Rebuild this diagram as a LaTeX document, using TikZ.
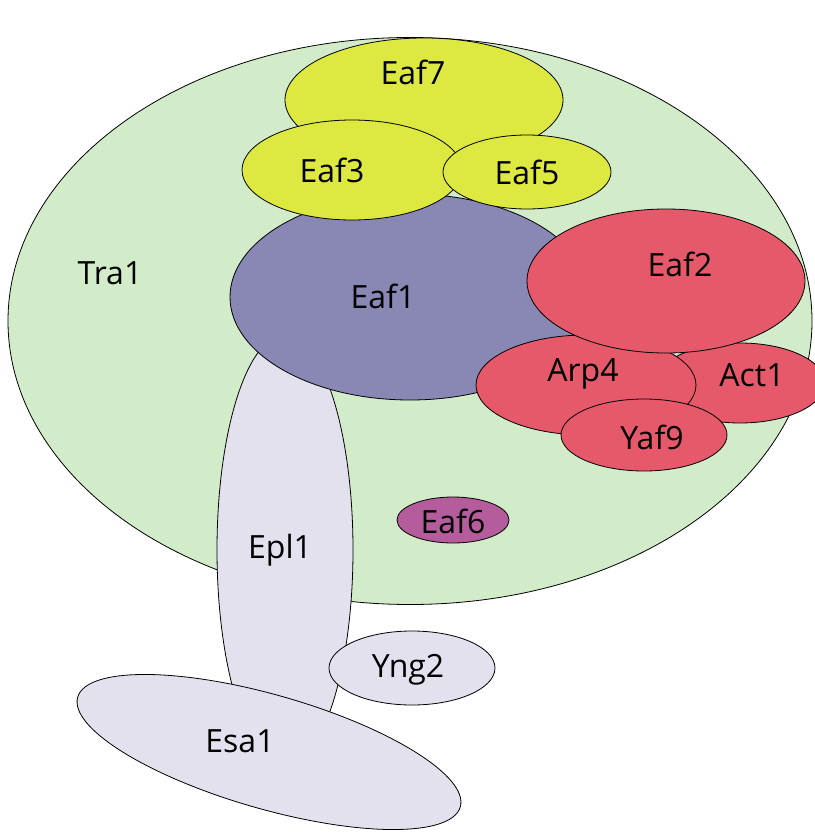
\documentclass[tikz,border=0pt]{standalone}
\usepackage{fontspec}
\setmainfont{Open Sans}
\usetikzlibrary{shapes.geometric}
\definecolor{tragreen}{HTML}{D2ECCA}
\definecolor{eafyellow}{HTML}{DDE840}
\definecolor{eafpurple}{HTML}{8987B4}
\definecolor{nuared}{HTML}{E6596B}
\definecolor{eafpink}{HTML}{B55C9C}
\definecolor{piccgray}{HTML}{E4E1EE}
\tikzset{
  blob/.style={ellipse, draw=black, line width=0.8pt, inner sep=0pt, fill=#1},
  lbl/.style={font=\fontsize{32}{36}\selectfont, inner sep=0pt}
}
\begin{document}
\begin{tikzpicture}[x=1pt,y=-1pt]
\useasboundingbox (0,0) rectangle (814,834);
% outer module
\node[blob=tragreen, minimum width=804, minimum height=567] (tra1) at (410,321) {};
% piccolo arm
\node[blob=piccgray, minimum width=136, minimum height=430] (epl1) at (285,550) {};
\node[blob=piccgray, minimum width=398, minimum height=114, rotate=-16] (esa1) at (269,752) {};
\node[blob=piccgray, minimum width=166, minimum height=74] (yng2) at (412,668) {};
% platform
\node[blob=eafyellow, minimum width=278, minimum height=124] (eaf7) at (424,100) {};
\node[blob=eafpurple, minimum width=360, minimum height=206] (eaf1) at (410,297) {};
% nucleosome-binding module
\node[blob=nuared, minimum width=170, minimum height=80] (act1) at (740,383) {};
\node[blob=nuared, minimum width=220, minimum height=100] (arp4) at (586,385) {};
\node[blob=nuared, minimum width=278, minimum height=144] (eaf2) at (666,281) {};
\node[blob=nuared, minimum width=166, minimum height=72] (yaf9) at (644,435) {};
\node[blob=eafyellow, minimum width=220, minimum height=100] (eaf3) at (352,170) {};
\node[blob=eafyellow, minimum width=168, minimum height=74] (eaf5) at (527,172) {};
\node[blob=eafpink, minimum width=112, minimum height=46] (eaf6) at (453,520) {};
% labels
\node[lbl] (ltra1) at (110,273) {Tra1};
\node[lbl] (leaf7) at (413,72) {Eaf7};
\node[lbl] (leaf3) at (332,170) {Eaf3};
\node[lbl] (leaf5) at (527,172) {Eaf5};
\node[lbl] (leaf1) at (383,296) {Eaf1};
\node[lbl] (leaf2) at (680,264) {Eaf2};
\node[lbl] (larp4) at (583,374) {Arp4};
\node[lbl] (lact1) at (752,375) {Act1};
\node[lbl] (lyaf9) at (652,437) {Yaf9};
\node[lbl] (leaf6) at (453,521) {Eaf6};
\node[lbl] (lepl1) at (280,550) {Epl1};
\node[lbl] (lyng2) at (408,670) {Yng2};
\node[lbl] (lesa1) at (240,741) {Esa1};
\end{tikzpicture}
\end{document}
